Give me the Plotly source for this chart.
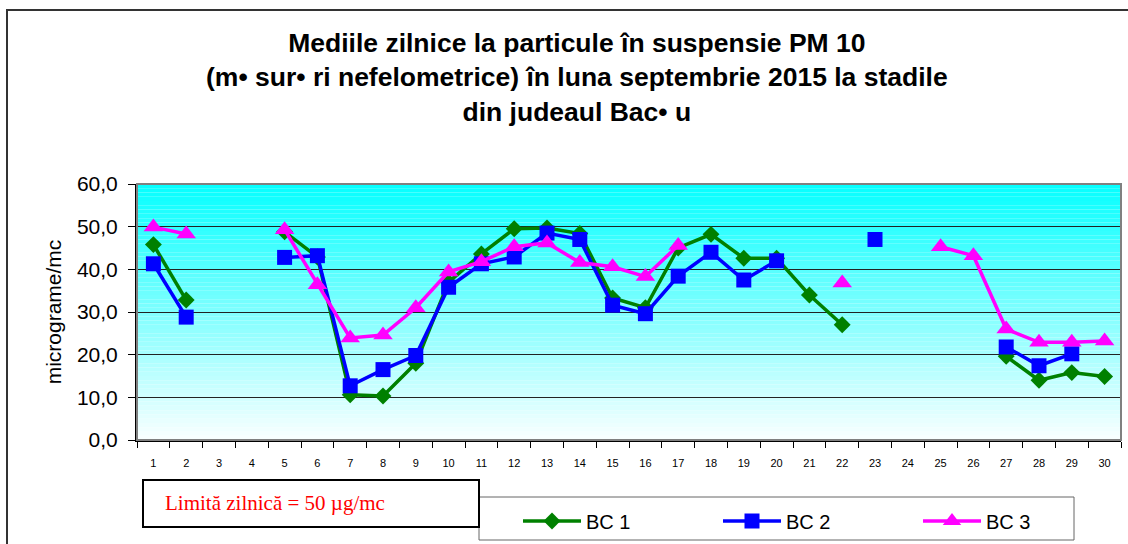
import plotly.graph_objects as go

days = list(range(1, 31))
bc1 = [45.8, 32.8, None, None, 48.8, 42.9, 10.6, 10.3, 18.0, 37.0,
       43.6, 49.5, 49.7, 48.4, 33.3, 31.0, 45.0, 48.2, 42.6, 42.6,
       34.0, 27.0, None, None, None, None, 19.6, 14.0, 15.8, 14.9]
bc2 = [41.3, 28.8, None, None, 42.8, 43.2, 12.7, 16.5, 19.8, 35.8,
       41.3, 42.9, 48.5, 47.0, 31.6, 29.6, 38.4, 44.0, 37.5, 42.0,
       None, None, 47.0, None, None, None, 21.8, 17.4, 20.2, None]
bc3 = [49.9, 48.3, None, None, 49.3, 36.4, 23.9, 24.6, 31.0, 39.4,
       41.8, 45.3, 46.2, 41.6, 40.6, 38.3, 45.6, None, None, None,
       None, 36.8, None, None, 45.3, 43.2, 26.0, 22.9, 22.9, 23.2]
series_names = ["BC 1", "BC 2", "BC 3"]
y_ticks = [0, 10, 20, 30, 40, 50, 60]

title_lines = ["Mediile zilnice la particule în suspensie PM 10",
               "(m• sur• ri nefelometrice) în luna septembrie 2015 la stadile",
               "din judeaul Bac• u"]
limit_text = "Limită zilnică = 50 µg/mc"

W, H = 1128, 544
L, R, T, B = 137, 1121, 184, 440
pw, ph = R - L, B - T

def px(x):
    return (x - L) / pw

def py(y):
    return (B - y) / ph

fig = go.Figure()

styles = [
    dict(color="#008000", symbol="diamond", size=13),
    dict(color="#0000FF", symbol="square", size=15),
    dict(color="#FF00FF", symbol="triangle-up", size=17),
]
for name, vals, st in zip(series_names, [bc1, bc2, bc3], styles):
    fig.add_trace(go.Scatter(
        x=days, y=vals, name=name, mode="lines+markers",
        connectgaps=False,
        line=dict(color=st["color"], width=3.5),
        marker=dict(color=st["color"], symbol=st["symbol"], size=st["size"],
                    line=dict(width=0)),
    ))

shapes = []
# gradient background
n = 60
for i in range(n):
    t = (i + 0.5) / n
    r = int(round(250 - t * 245))
    shapes.append(dict(type="rect", xref="x domain", yref="y",
                       x0=0, x1=1, y0=60 * i / n, y1=60 * (i + 1) / n,
                       fillcolor=f"rgb({r},255,255)", line=dict(width=0),
                       layer="below"))
# plot border
shapes.append(dict(type="rect", xref="x domain", yref="y domain", x0=0, x1=1, y0=0, y1=1,
                   line=dict(color="#808080", width=2), layer="above"))
# outer frame
shapes.append(dict(type="rect", xref="paper", yref="paper",
                   x0=px(7), x1=px(1200), y0=py(600), y1=py(10),
                   line=dict(color="#333333", width=2)))
# legend box
shapes.append(dict(type="rect", xref="paper", yref="paper",
                   x0=px(479), x1=px(1074), y0=py(540), y1=py(497),
                   fillcolor="white", line=dict(color="#666666", width=1)))
# limit box
shapes.append(dict(type="rect", xref="paper", yref="paper",
                   x0=px(143), x1=px(479), y0=py(527), y1=py(480),
                   fillcolor="white", line=dict(color="black", width=2)))

annotations = [
    dict(text="<br>".join("<b>%s</b>" % s for s in title_lines), xref="paper", yref="paper",
         x=px(577), y=py(77), xanchor="center", yanchor="middle", showarrow=False,
         font=dict(family="Arial, Liberation Sans", size=26.5, color="black"),
         align="center"),
    dict(text=limit_text, xref="paper", yref="paper",
         x=px(163), y=py(503), xanchor="left", yanchor="middle", showarrow=False,
         font=dict(family="Liberation Serif, Times New Roman", size=21, color="#FF0000")),
]

fig.update_layout(
    width=W, height=H,
    margin=dict(l=L, r=W - R, t=T, b=H - B, autoexpand=False),
    paper_bgcolor="white",
    plot_bgcolor="white",
    separators=", ",
    shapes=shapes,
    annotations=annotations,
    showlegend=True,
    legend=dict(orientation="h", x=px(518), y=py(521), xanchor="left", yanchor="middle",
                bgcolor="rgba(0,0,0,0)", borderwidth=0,
                itemwidth=58,
                entrywidth=127, entrywidthmode="pixels",
                font=dict(family="Arial, Liberation Sans", size=20, color="black")),
    xaxis=dict(range=[0.5, 30.5], tickmode="array", tickvals=days,
               ticktext=[str(d) for d in days], ticks="", showgrid=False,
               zeroline=False, showline=True, linecolor="black", linewidth=2,
               ticklabelstandoff=12,
               tickfont=dict(family="Arial, Liberation Sans", size=11, color="black"),
               minor=dict(tick0=0.5, dtick=1, ticks="outside", ticklen=6,
                          tickcolor="black", tickwidth=1, showgrid=False)),
    yaxis=dict(range=[0, 60], tickmode="array", tickvals=y_ticks,
               ticktext=[f"{v:.1f}".replace(".", ",") for v in y_ticks],
               ticks="outside", ticklen=7, tickcolor="black", ticklabelstandoff=6,
               showgrid=True, gridcolor="#222222", gridwidth=1,
               zeroline=False, showline=True, linecolor="black", linewidth=2,
               tickfont=dict(family="Arial, Liberation Sans", size=21, color="black"),
               title=dict(text="micrograme/mc", standoff=10,
                          font=dict(family="Arial, Liberation Sans", size=21, color="black"))),
)

fig.write_html("out.html", config={"displayModeBar": False},
               post_script="document.body.style.margin='0px';")
